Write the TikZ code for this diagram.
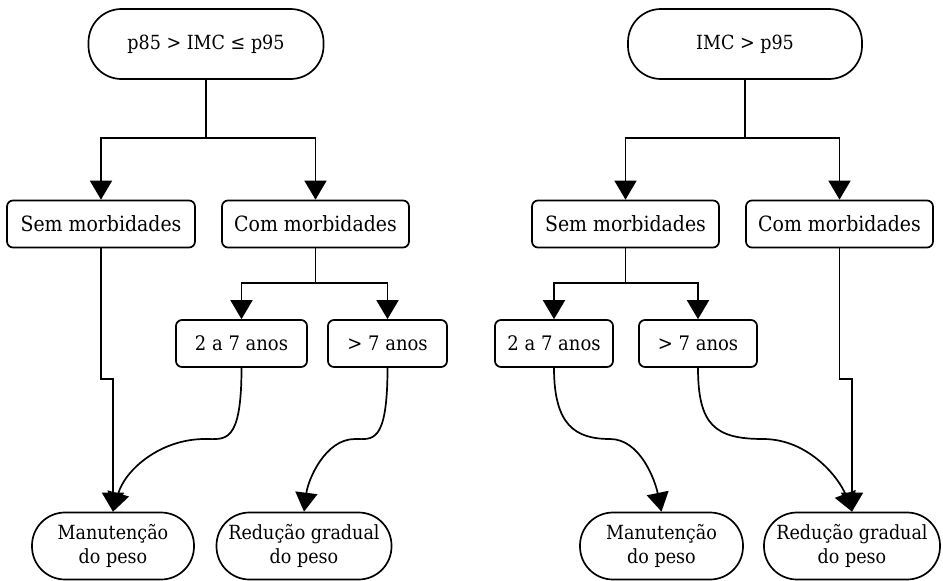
\documentclass[tikz,border=0pt]{standalone}
\usepackage{fontspec}
\setmainfont{DejaVu Serif}[FakeStretch=0.9]
\usepackage{tikz}
\usetikzlibrary{arrows.meta,positioning,calc}

\begin{document}
\begin{tikzpicture}[x=1pt,y=-1pt,line width=1.7pt,
every node/.style={draw,align=center,inner sep=2pt,font=\fontsize{21}{24}\selectfont},
term/.style={rounded corners=33pt,minimum height=70pt,font=\fontsize{19.5}{24}\selectfont},
box/.style={rounded corners=6pt,minimum height=47pt},
small/.style={box,font=\fontsize{20}{24}\selectfont},
arr/.style={-{Triangle[width=22pt,length=19pt]}}]
\useasboundingbox (0,0) rectangle (943,581);
\node[term,minimum width=235pt] (topL) at (206,44) {p85 > IMC ≤ p95};
\node[box,minimum width=188pt] (semL) at (101,224) {Sem morbidades};
\node[box,minimum width=187pt] (comL) at (315.5,224) {Com morbidades};
\node[small,minimum width=131pt] (ageAL) at (241.5,343.5) {2 a 7 anos};
\node[small,minimum width=119pt] (ageBL) at (387.5,343.5) {> 7 anos};
\node[term,minimum width=162pt,minimum height=67pt] (manL) at (113,546) {Manutenção\\do peso};
\node[term,minimum width=175pt,minimum height=67pt] (redL) at (304,546) {Redução gradual\\do peso};
\node[term,minimum width=234pt] (topR) at (745,44) {IMC > p95};
\node[box,minimum width=187pt] (semR) at (625.5,224) {Sem morbidades};
\node[box,minimum width=187pt] (comR) at (839.5,224) {Com morbidades};
\node[small,minimum width=118pt] (ageAR) at (554,343.5) {2 a 7 anos};
\node[small,minimum width=118pt] (ageBR) at (698,343.5) {> 7 anos};
\node[term,minimum width=163pt,minimum height=67pt] (manR) at (661.5,546) {Manutenção\\do peso};
\node[term,minimum width=176pt,minimum height=67pt] (redR) at (852,546) {Redução gradual\\do peso};
\coordinate (jL) at (206,138);
\coordinate (kL) at (315.5,283);
\coordinate (sL) at (113,379);
\coordinate (jR) at (745,138);
\coordinate (kR) at (625.5,283);
\coordinate (sR) at (852,379);
\draw (topL) -- (jL);
\draw[arr] (jL) -| (semL);
\draw[arr] (jL) -| (comL);
\draw (comL) -- (kL);
\draw[arr] (kL) -| (ageAL);
\draw[arr] (kL) -| (ageBL);
\draw[arr] (semL) |- (sL) -- (manL);
\draw[arr] (ageAL.south) .. controls (241.5,445) and (225,439) .. (205,439) .. controls (160,439) and (125,470) .. (manL.north);
\draw[arr] (ageBL.south) .. controls (387.5,445) and (372,439) .. (355,439) .. controls (325,439) and (308,480) .. (redL.north);
\draw (topR) -- (jR);
\draw[arr] (jR) -| (semR);
\draw[arr] (jR) -| (comR);
\draw (semR) -- (kR);
\draw[arr] (kR) -| (ageAR);
\draw[arr] (kR) -| (ageBR);
\draw[arr] (comR) |- (sR) -- (redR);
\draw[arr] (ageAR.south) .. controls (554,425) and (575,439) .. (610,439) .. controls (640,439) and (655,480) .. (manR.north);
\draw[arr] (ageBR.south) .. controls (698,425) and (715,439) .. (763,439) .. controls (810,439) and (840,480) .. (redR.north);
\end{tikzpicture}
\end{document}
